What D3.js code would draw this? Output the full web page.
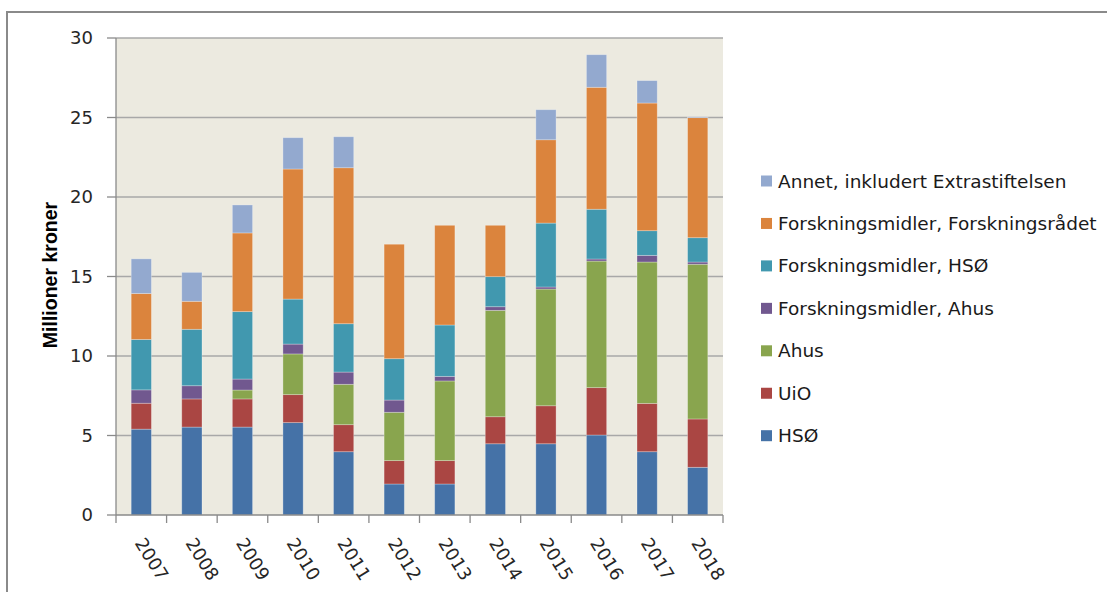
<!DOCTYPE html>
<html>
<head>
<meta charset="utf-8">
<script src="https://cdn.jsdelivr.net/npm/d3@7"></script>
<style>
  body { margin: 0; background: #fff; }
  svg { display: block; }
</style>
</head>
<body>
<svg id="chart" width="1107" height="592"></svg>
<script>
const years = ["2007", "2008", "2009", "2010", "2011", "2012", "2013", "2014", "2015", "2016", "2017", "2018"];

// stacked bottom to top
const hso = [5.4, 5.53, 5.53, 5.81, 3.98, 1.95, 1.95, 4.48, 4.48, 5.03, 3.98, 3.0];
const uio = [1.63, 1.77, 1.77, 1.76, 1.7, 1.47, 1.47, 1.7, 2.39, 2.98, 3.04, 3.04];
const ahus = [0, 0, 0.56, 2.56, 2.54, 3.04, 5.01, 6.69, 7.34, 7.96, 8.89, 9.73];
const fmAhus = [0.84, 0.83, 0.69, 0.62, 0.77, 0.77, 0.29, 0.23, 0.13, 0.13, 0.42, 0.14];
const fmHso = [3.17, 3.55, 4.24, 2.83, 3.04, 2.6, 3.23, 1.89, 4.02, 3.13, 1.55, 1.53];
const fmForsk = [2.89, 1.76, 4.95, 8.18, 9.81, 7.2, 6.27, 3.23, 5.24, 7.67, 8.03, 7.55];
const annet = [2.18, 1.82, 1.76, 1.97, 1.95, 0, 0, 0, 1.89, 2.05, 1.41, 0.05];

const yTicks = [0, 5, 10, 15, 20, 25, 30];

const seriesNames = ["HSØ", "UiO", "Ahus", "Forskningsmidler, Ahus", "Forskningsmidler, HSØ",
  "Forskningsmidler, Forskningsrådet", "Annet, inkludert Extrastiftelsen"];
const seriesValues = [hso, uio, ahus, fmAhus, fmHso, fmForsk, annet];
const colors = ["#4572a7", "#aa4643", "#89a54e", "#71588f", "#4198af", "#db843d", "#93a9cf"];

const svg = d3.select("#chart");
const margin = { top: 38, left: 116, right: 384, bottom: 77 };
const width = 1107 - margin.left - margin.right;
const height = 592 - margin.top - margin.bottom;

// chart frame (only top and left edge are in view)
svg.append("path")
  .attr("d", "M7,600V12H1110")
  .attr("fill", "none")
  .attr("stroke", "#8a8a8a")
  .attr("stroke-width", 2);

const rows = years.map((y, i) => {
  const r = { year: y };
  seriesNames.forEach((s, j) => { r[s] = seriesValues[j][i]; });
  return r;
});
const stacked = d3.stack().keys(seriesNames)(rows);

const x = d3.scaleBand().domain(years).range([0, width]).paddingInner(0.6).paddingOuter(0.3);
const y = d3.scaleLinear().domain([0, 30]).range([height, 0]);
const color = d3.scaleOrdinal().domain(seriesNames).range(colors);

const g = svg.append("g").attr("transform", `translate(${margin.left},${margin.top})`);

g.append("rect")
  .attr("width", width)
  .attr("height", height)
  .attr("fill", "#eceae0");

g.append("g")
  .selectAll("line")
  .data(yTicks.slice(1))
  .join("line")
  .attr("x1", 0)
  .attr("x2", width)
  .attr("y1", d => y(d))
  .attr("y2", d => y(d))
  .attr("stroke", "#a8a8a8")
  .attr("stroke-width", 1.3);

g.append("g")
  .selectAll("g")
  .data(stacked)
  .join("g")
  .attr("fill", d => color(d.key))
  .selectAll("rect")
  .data(d => d.filter(v => v[1] - v[0] > 0))
  .join("rect")
  .attr("x", d => x(d.data.year))
  .attr("width", x.bandwidth())
  .attr("y", d => y(d[1]))
  .attr("height", d => y(d[0]) - y(d[1]))
  .attr("stroke", "rgba(255,255,255,0.35)")
  .attr("stroke-width", 0.8);

// y axis
const yAxis = g.append("g");
yAxis.append("line")
  .attr("x1", 0).attr("x2", 0).attr("y1", 0).attr("y2", height)
  .attr("stroke", "#8a8a8a").attr("stroke-width", 1.3);
const yt = yAxis.selectAll("g.tick")
  .data(yTicks)
  .join("g")
  .attr("class", "tick")
  .attr("transform", d => `translate(0,${y(d)})`);
yt.append("line").attr("x1", -9).attr("x2", 0).attr("stroke", "#8a8a8a").attr("stroke-width", 1.3);
yt.append("text")
  .attr("x", -23)
  .attr("dy", "0.36em")
  .attr("text-anchor", "end")
  .style("font-family", "DejaVu Sans")
  .style("font-size", "18px")
  .attr("fill", "#262626")
  .text(d => d);

// x axis
const xAxis = g.append("g").attr("transform", `translate(0,${height})`);
xAxis.append("line")
  .attr("x1", 0).attr("x2", width)
  .attr("stroke", "#8a8a8a").attr("stroke-width", 1.3);
xAxis.selectAll("line.tk")
  .data(d3.range(years.length + 1))
  .join("line")
  .attr("class", "tk")
  .attr("x1", i => i * x.step())
  .attr("x2", i => i * x.step())
  .attr("y1", 0).attr("y2", 8)
  .attr("stroke", "#8a8a8a").attr("stroke-width", 1.3);
xAxis.selectAll("text")
  .data(years)
  .join("text")
  .attr("transform", d => `translate(${x(d) + x.bandwidth() / 2 - 7},28) rotate(58)`)
  .attr("text-anchor", "start")
  .style("font-family", "DejaVu Sans")
  .style("font-size", "18px")
  .attr("fill", "#262626")
  .text(d => d);

// y title
svg.append("text")
  .attr("transform", "translate(57,275) rotate(-90)")
  .attr("text-anchor", "middle")
  .style("font-family", "Liberation Sans")
  .style("font-weight", "bold")
  .style("font-size", "19.5px")
  .attr("fill", "#000")
  .text("Millioner kroner");

// legend (top entry is last series)
const legend = svg.append("g")
  .selectAll("g")
  .data(seriesNames.slice().reverse())
  .join("g")
  .attr("transform", (d, i) => `translate(761,${181 + i * 42.45})`);
legend.append("rect")
  .attr("y", -5.5)
  .attr("width", 11)
  .attr("height", 11)
  .attr("fill", d => color(d));
legend.append("text")
  .attr("x", 17)
  .attr("y", 6.5)
  .style("font-family", "DejaVu Sans")
  .style("font-size", "18.5px")
  .attr("fill", "#1a1a1a")
  .text(d => d);
</script>
</body>
</html>
